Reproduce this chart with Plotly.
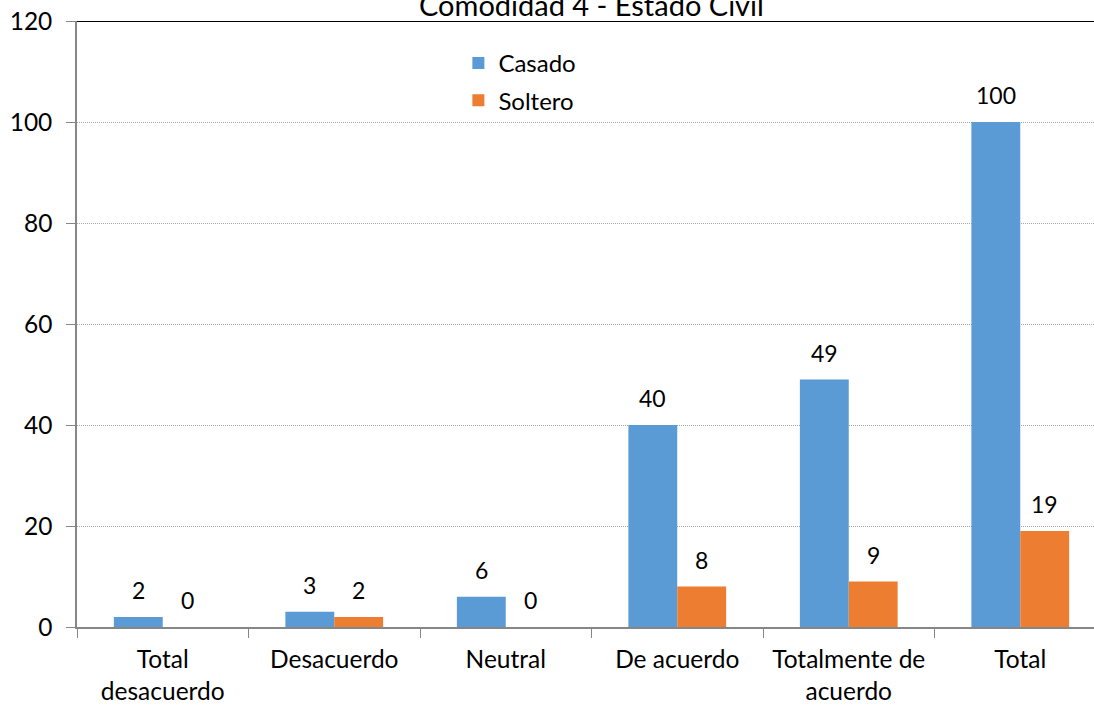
import plotly.graph_objects as go

categories = ["Total<br>desacuerdo", "Desacuerdo", "Neutral", "De acuerdo", "Totalmente de<br>acuerdo", "Total"]
casado = [2, 3, 6, 40, 49, 100]
soltero = [0, 2, 0, 8, 9, 19]
y_ticks = [0, 20, 40, 60, 80, 100, 120]
title_text = "Comodidad 4 - Estado Civil"

FONT = "Lato"
BLUE = "#5B9BD5"
ORANGE = "#ED7D31"

fig = go.Figure()
fig.add_trace(go.Bar(x=categories, y=casado, name="Casado", marker_color=BLUE,
                     marker_line_width=0, legendgroup="a"))
fig.add_trace(go.Bar(x=categories, y=soltero, name="Soltero", marker_color=ORANGE,
                     marker_line_width=0, legendgroup="b"))

# data labels above each bar
for vals, shift in ((casado, -24.5), (soltero, 24.5)):
    for c, v in zip(categories, vals):
        fig.add_annotation(x=c, y=v, xref="x", yref="y", text=str(v), showarrow=False,
                           xanchor="center", yanchor="bottom", xshift=shift, yshift=11,
                           font=dict(size=23, color="#000000", family=FONT))

fig.update_layout(
    width=1094, height=707,
    margin=dict(l=77, r=0, t=21, b=80),
    paper_bgcolor="white", plot_bgcolor="white",
    font=dict(family=FONT, size=24, color="#000000"),
    barmode="group", bargap=0.43, bargroupgap=0,
    showlegend=True,
    legend=dict(x=0.375, y=0.967, xanchor="left", yanchor="top",
                font=dict(size=24), tracegroupgap=3, bgcolor="rgba(0,0,0,0)",
                itemwidth=30),
)
fig.update_xaxes(
    range=[-0.5, 5.43], tickson="boundaries", ticks="outside", ticklen=9,
    tickcolor="#868686", showline=True, linecolor="#868686", linewidth=1.5,
    showgrid=False, tickfont=dict(size=24.5), ticklabelstandoff=10,
)
fig.update_yaxes(
    range=[0, 120], tickvals=y_ticks, ticks="outside", ticklen=9, tickcolor="#868686",
    showline=True, linecolor="#868686", linewidth=1.5,
    showgrid=True, gridcolor="#A6A6A6", griddash="1px,1px", gridwidth=1,
    zeroline=False, tickfont=dict(size=24.5), ticklabelstandoff=9,
)
fig.add_shape(type="line", xref="paper", yref="y", x0=0, x1=1, y0=120, y1=120,
              line=dict(color="#000000", width=2))
fig.add_annotation(text=title_text, xref="x", yref="paper", x=2.5, y=1,
                   xanchor="center", yanchor="bottom", yshift=-3, showarrow=False,
                   font=dict(size=29, color="#000000", family=FONT))
fig.write_html("out.html")
